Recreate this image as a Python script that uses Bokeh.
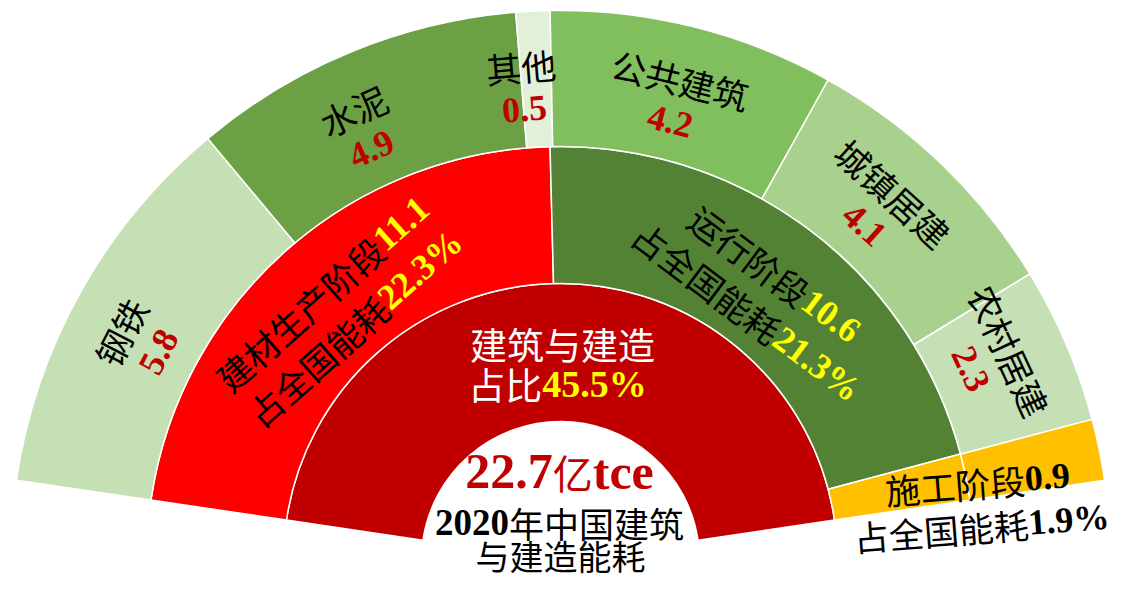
import math
from bokeh.plotting import figure
from bokeh.models import ColumnDataSource
from bokeh.embed import file_html
from bokeh.resources import INLINE
from bokeh.core.properties import value

# ---------------- data ----------------
total_value = 22.7
total_unit = "亿tce"
total_title = ["2020年", "中国建筑", "与建造能耗"]
center_title = "建筑与建造"
center_share_label = "占比"
center_share = "45.5%"

stage_names = ["建材生产阶段", "运行阶段", "施工阶段"]
stage_values = [11.1, 10.6, 0.9]
stage_share_label = "占全国能耗"
stage_shares = ["22.3%", "21.3%", "1.9%"]

item_names = ["钢铁", "水泥", "其他", "公共建筑", "城镇居建", "农村居建", "施工阶段"]
item_values = [5.8, 4.9, 0.5, 4.2, 4.1, 2.3, 0.9]

# ---------------- layout / style ----------------
W, H = 1114, 582
OX, OY = 3, 3                   # where the canvas lands on the page


def P(X, Y):
    """page pixel -> data coords"""
    return X - OX, (H + OY) - Y


CX, CY = P(563, 563)            # centre of the fan
R0, R1, R2, R3 = 139, 277, 414, 550
A_START, A_END = 171.6, 8.4     # visible fan, degrees
label_nudge = [1.8, 2.4, 1.7, 0.0, 1.7, 1.9]   # degrees, outer labels
CJK = "Noto Sans CJK SC"
SERIF = "Liberation Serif"
DARK_RED = "#C00000"
YELLOW = "#FFFF00"
stage_colors = ["#FF0000", "#548235", "#FFC000"]
item_colors = ["#C5E0B4", "#6BA044", "#E2F0D9", "#80BE5E", "#A9D18E", "#C5E0B4", "#FFC000"]


def spans(vals):
    tot = sum(vals)
    span = A_START - A_END
    out, a = [], A_START
    for v in vals:
        b = a - v / tot * span
        out.append((a, b))
        a = b
    return out


def polar(r, a_deg):
    t = math.radians(a_deg)
    return CX + r * math.cos(t), CY + r * math.sin(t)


p = figure(width=W, height=H, x_range=(0, W), y_range=(0, H),
           output_backend="svg", toolbar_location=None, min_border=0,
           x_axis_location=None, y_axis_location=None)
p.grid.visible = False
p.outline_line_color = None
p.background_fill_color = "white"
p.border_fill_color = "white"


def ring(vals, colors, r_in, r_out):
    sp = spans(vals)
    src = ColumnDataSource(dict(
        s=[math.radians(b) for a, b in sp],
        e=[math.radians(a) for a, b in sp],
        c=colors,
    ))
    p.annular_wedge(x=CX, y=CY, inner_radius=r_in, outer_radius=r_out,
                    start_angle="s", end_angle="e", fill_color="c",
                    line_color="white", line_width=1.5, source=src)
    return sp


ring([total_value], [DARK_RED], R0, R1)
stage_sp = ring(stage_values, stage_colors, R1, R2)
item_sp = ring(item_values, item_colors, R2, R3)

SERIF_W = {str(d): 0.5 for d in range(10)}
SERIF_W.update({'.': 0.25, '%': 1.0, 't': 0.333, 'c': 0.444, 'e': 0.444})


def seg_w(seg):
    txt, font, size = seg[0], seg[1], seg[2]
    if font == CJK:
        return len(txt) * size
    return sum(SERIF_W.get(ch, 0.5) for ch in txt) * size


def rich(x, y, ang_deg, segs):
    t = math.radians(ang_deg)
    ux, uy = math.cos(t), math.sin(t)
    off = -sum(seg_w(s) for s in segs) / 2
    for txt, font, size, color, style in segs:
        p.text(x=[x + off * ux], y=[y + off * uy], text=[txt], angle=t,
               text_font=value(font), text_font_size=f"{size}px",
               text_color=color, text_font_style=style,
               text_align="left", text_baseline="middle")
        off += seg_w((txt, font, size))


# outer ring labels
for i in range(6):
    a, b = item_sp[i]
    m = (a + b) / 2 + label_nudge[i]
    x, y = polar(496, m)
    rich(x, y, m - 90, [(item_names[i], CJK, 35, "black", "normal")])
    x, y = polar(453, m)
    rich(x, y, m - 90, [(f"{item_values[i]}", SERIF, 36, DARK_RED, "bold")])

# middle ring labels
for i in range(2):
    a, b = stage_sp[i]
    m = (a + b) / 2
    x, y = polar(358, m)
    rich(x, y, m - 90, [(stage_names[i], CJK, 35, "black", "normal"),
                        (f"{stage_values[i]}", SERIF, 36, YELLOW, "bold")])
    x, y = polar(311, m)
    rich(x, y, m - 90, [(stage_share_label, CJK, 35, "black", "normal"),
                        (stage_shares[i], SERIF, 36, YELLOW, "bold")])

# construction stage label (outside, near the yellow slice)
x, y = P(980, 485)
rich(x, y, 4.5, [(stage_names[2], CJK, 35, "black", "normal"),
                 (f"{stage_values[2]}", SERIF, 36, "black", "bold")])
x, y = P(984, 529)
rich(x, y, 4.5, [(stage_share_label, CJK, 35, "black", "normal"),
                 (stage_shares[2], SERIF, 36, "black", "bold")])

# centre texts
x, y = P(565, 346)
rich(x, y, 0, [(center_title, CJK, 37, "white", "normal")])
x, y = P(560, 386)
rich(x, y, 0, [(center_share_label, CJK, 37, "white", "normal"),
               (center_share, SERIF, 38, YELLOW, "bold")])
x, y = P(562, 474)
rich(x, y, 0, [(f"{total_value}", SERIF, 50, DARK_RED, "bold"),
               (total_unit[0], CJK, 40, DARK_RED, "normal"),
               (total_unit[1:], SERIF, 50, DARK_RED, "bold")])
x, y = P(562, 525)
rich(x, y, 0, [(total_title[0][:4], SERIF, 37, "black", "bold"),
               (total_title[0][4:] + total_title[1], CJK, 35, "black", "normal")])
x, y = P(563, 558)
rich(x, y, 0, [(total_title[2], CJK, 34, "black", "normal")])

open("out.html", "w").write(file_html(p, INLINE))
